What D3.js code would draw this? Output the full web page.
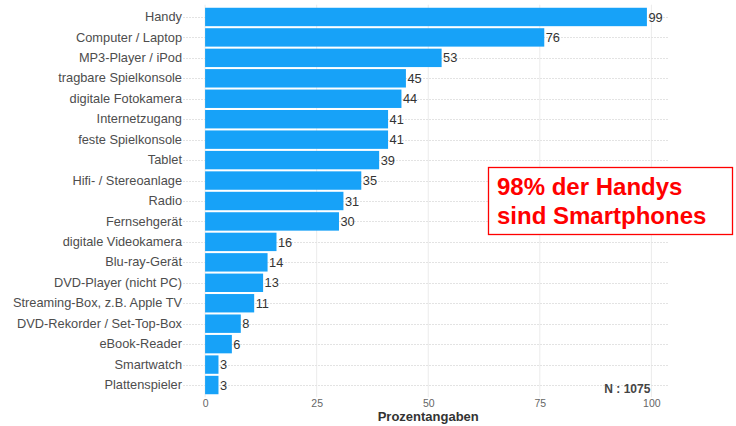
<!DOCTYPE html>
<html>
<head>
<meta charset="utf-8">
<script src="https://cdn.jsdelivr.net/npm/d3@7"></script>
<style>
  body { margin: 0; background: #fff; }
  text { font-family: Arial, "Liberation Sans", sans-serif; }
</style>
</head>
<body>
<script>
// Daten
var geraete = ["Handy", "Computer / Laptop", "MP3-Player / iPod", "tragbare Spielkonsole",
  "digitale Fotokamera", "Internetzugang", "feste Spielkonsole", "Tablet",
  "Hifi- / Stereoanlage", "Radio", "Fernsehgerät", "digitale Videokamera",
  "Blu-ray-Gerät", "DVD-Player (nicht PC)", "Streaming-Box, z.B. Apple TV",
  "DVD-Rekorder / Set-Top-Box", "eBook-Reader", "Smartwatch", "Plattenspieler"]
var prozent = [99, 76, 53, 45, 44, 41, 41, 39, 35, 31, 30, 16, 14, 13, 11, 8, 6, 3, 3]
var xTicks = [0, 25, 50, 75, 100]

var width = 736, height = 426
var svg = d3.select("body").append("svg")
    .attr("width", width)
    .attr("height", height)

// panel (nicht "top" nennen -> window.top)
var pLeft = 183, pRight = 669, pTop = 4.7, pBottom = 397.3

var x = d3.scaleLinear()
    .domain([-4.95, 103.95])
    .range([pLeft, pRight])

var y = d3.scaleBand()
    .domain(geraete)
    .range([pTop, pBottom])
    .paddingInner(0.1)
    .paddingOuter(0.15)

// gitter
svg.append("g").selectAll("line")
    .data(xTicks)
    .enter().append("line")
    .attr("x1", d => x(d)).attr("x2", d => x(d))
    .attr("y1", pTop).attr("y2", pBottom)
    .style("stroke", "#ebebeb")
    .style("stroke-width", 1)

svg.append("g").selectAll("line")
    .data(geraete)
    .enter().append("line")
    .attr("x1", pLeft).attr("x2", pRight)
    .attr("y1", d => Math.round(y(d) + y.bandwidth() / 2) + 0.5)
    .attr("y2", d => Math.round(y(d) + y.bandwidth() / 2) + 0.5)
    .style("stroke", "#e3e3e3")
    .style("stroke-width", 1)
    .style("stroke-dasharray", "2,1")

// balken
svg.append("g").selectAll("rect")
    .data(geraete)
    .enter().append("rect")
    .attr("x", x(0))
    .attr("y", d => y(d))
    .attr("height", y.bandwidth())
    .attr("width", (d, i) => x(prozent[i]) - x(0))
    .attr("fill", "#17a2f8")

// werte
svg.append("g").selectAll("text")
    .data(geraete)
    .enter().append("text")
    .attr("x", (d, i) => x(prozent[i]) + 1.5)
    .attr("y", d => y(d) + y.bandwidth() / 2)
    .attr("dy", "0.36em")
    .style("font-size", "12.8px")
    .style("fill", "#333")
    .text((d, i) => prozent[i])

// y achse
svg.append("g")
    .attr("transform", "translate(" + pLeft + ",0)")
    .call(d3.axisLeft(y).tickSize(0).tickPadding(1))
    .call(g => g.select(".domain").remove())
    .selectAll("text")
    .style("font-size", "12.8px")
    .style("fill", "#4d4d4d")
    .style("font-family", "Arial, 'Liberation Sans', sans-serif")

// x achse
svg.append("g")
    .attr("transform", "translate(0," + pBottom + ")")
    .call(d3.axisBottom(x).tickValues(xTicks).tickSize(0).tickPadding(2))
    .call(g => g.select(".domain").remove())
    .selectAll("text")
    .style("font-size", "10.5px")
    .style("fill", "#666")
    .style("font-family", "Arial, 'Liberation Sans', sans-serif")

svg.append("text")
    .attr("x", x(50))
    .attr("y", 421)
    .attr("text-anchor", "middle")
    .style("font-size", "13px")
    .style("font-weight", "bold")
    .style("fill", "#333")
    .text("Prozentangaben")

svg.append("text")
    .attr("x", x(100) - 1)
    .attr("y", 393)
    .attr("text-anchor", "end")
    .style("font-size", "12px")
    .style("font-weight", "bold")
    .style("fill", "#444")
    .text("N : 1075")

// hinweis
svg.append("rect")
    .attr("x", 488.5).attr("y", 167.5)
    .attr("width", 244).attr("height", 67)
    .attr("fill", "#fff")
    .attr("stroke", "#ff0000")
    .attr("stroke-width", 1.3)

svg.append("text")
    .attr("x", 497).attr("y", 195)
    .style("font-size", "24px")
    .style("font-weight", "bold")
    .style("fill", "#ff0000")
    .text("98% der Handys")

svg.append("text")
    .attr("x", 497).attr("y", 224)
    .style("font-size", "24px")
    .style("font-weight", "bold")
    .style("fill", "#ff0000")
    .text("sind Smartphones")
</script>
</body>
</html>
